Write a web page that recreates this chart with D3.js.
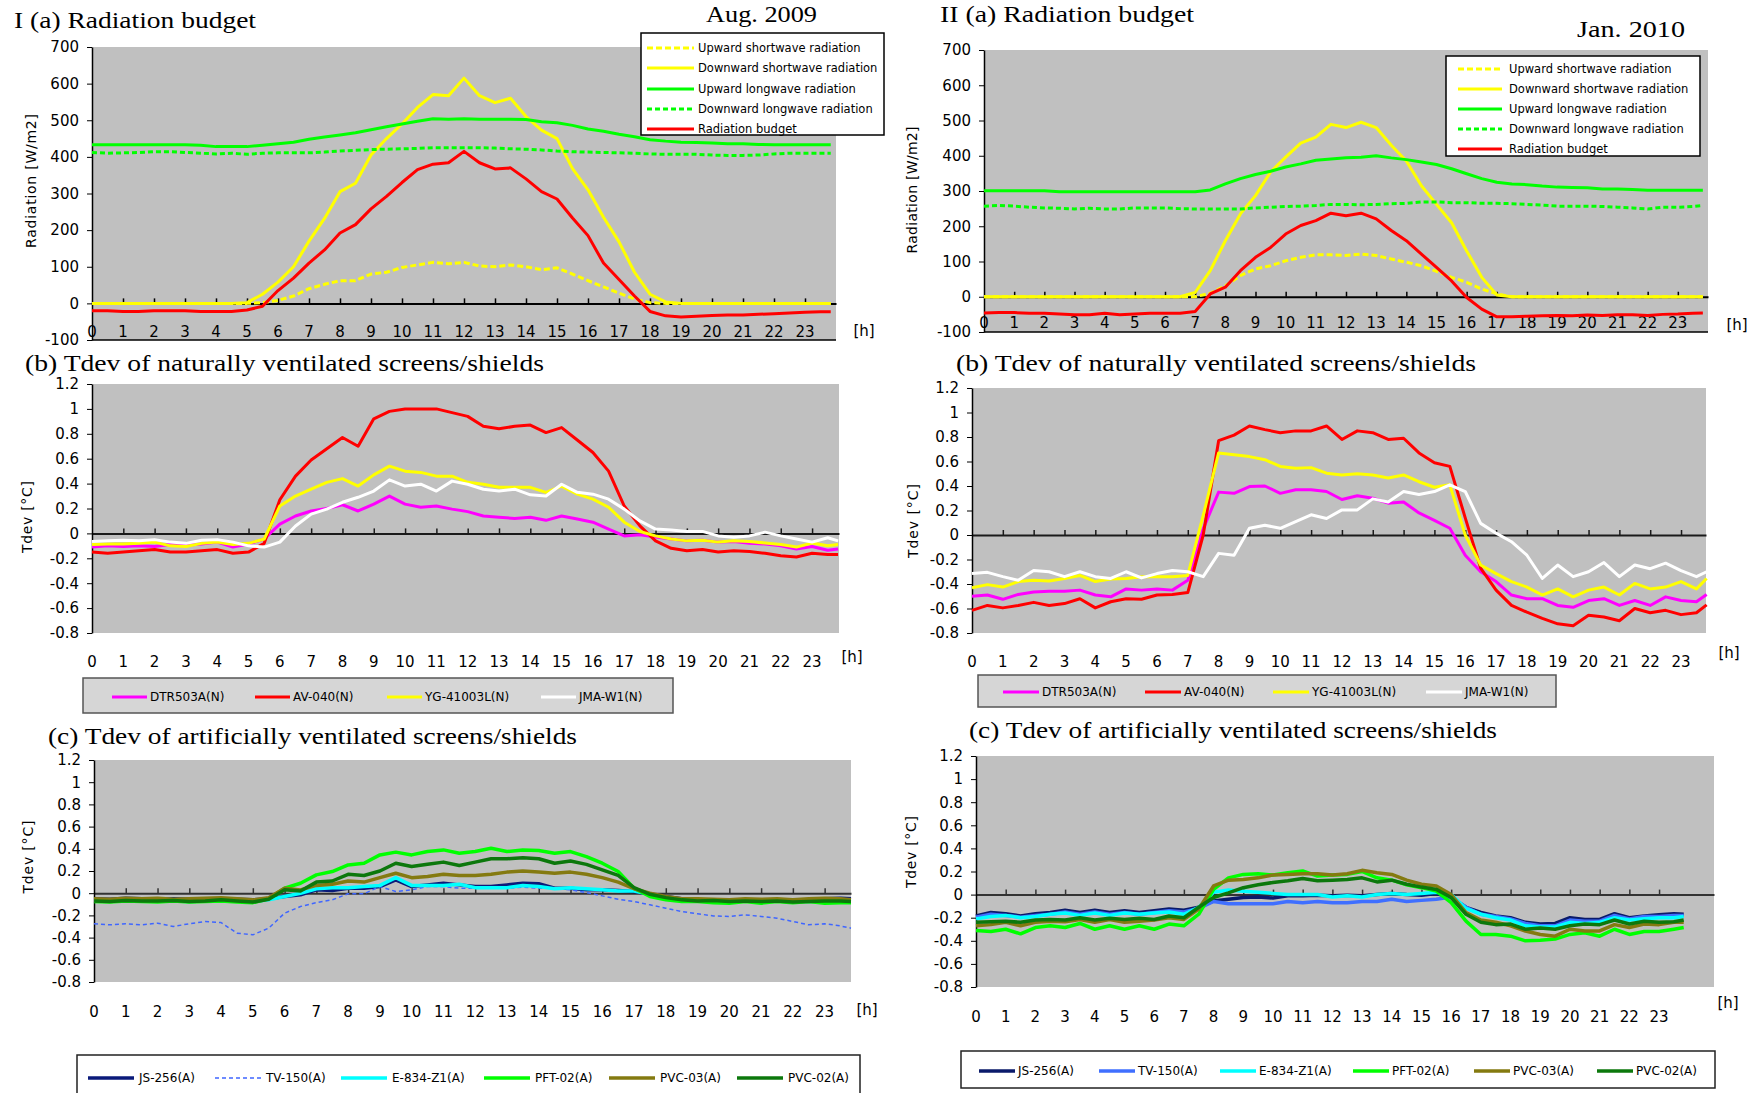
<!DOCTYPE html>
<html>
<head>
<meta charset="utf-8">
<script src="https://cdn.jsdelivr.net/npm/d3@7"></script>
<style>
  body { margin: 0; background: #fff; }
  svg { display: block; }
</style>
</head>
<body>
<svg id="chart" width="1755" height="1093"></svg>
<script>
// time grid (hours), every 30 min
var hours = [0,0.5,1,1.5,2,2.5,3,3.5,4,4.5,5,5.5,
  6,6.5,7,7.5,8,8.5,9,9.5,10,10.5,11,11.5,
  12,12.5,13,13.5,14,14.5,15,15.5,16,16.5,17,17.5,
  18,18.5,19,19.5,20,20.5,21,21.5,22,22.5,23,23.5,
  23.83];
var hourLabels = [0,1,2,3,4,5,6,7,8,9,10,11,12,13,14,15,16,17,18,19,20,21,22,23];
var radTicks = [-100,0,100,200,300,400,500,600,700];
var tdevTicks = [-0.8,-0.6,-0.4,-0.2,0,0.2,0.4,0.6,0.8,1,1.2];

var radNames = ["Upward shortwave radiation","Downward shortwave radiation","Upward longwave radiation","Downward longwave radiation","Radiation budget"];
var natNames = ["DTR503A(N)","AV-040(N)","YG-41003L(N)","JMA-W1(N)"];
var artNames = ["JS-256(A)","TV-150(A)","E-834-Z1(A)","PFT-02(A)","PVC-03(A)","PVC-02(A)"];

// ---- Aug. 2009 radiation [W/m2]
var augUpSW = [0,0,0,0,0,0,0,0,0,0,0,2,
  8,20,40,52,62,62,80,85,98,105,112,108,
  112,102,100,105,100,92,97,80,62,45,28,12,
  2,0,0,0,0,0,0,0,0,0,0,0,
  0];
var augDownSW = [0,0,0,0,0,0,0,0,0,0,2,25,
  58,100,170,232,305,328,405,450,490,535,570,567,
  615,567,548,560,510,473,450,368,310,235,168,85,
  25,4,0,0,0,0,0,0,0,0,0,0,
  0];
var augUpLW = [433,433,433,433,433,433,433,432,428,428,428,432,
  436,440,448,454,460,466,474,482,490,497,504,503,
  504,503,503,503,502,496,493,486,476,470,462,455,
  447,443,440,439,438,436,436,434,433,433,433,433,
  433];
var augDownLW = [412,410,411,412,414,414,412,410,408,410,407,410,
  411,411,411,413,416,418,420,421,422,423,425,425,
  425,425,424,422,421,419,416,414,413,412,411,410,
  408,407,407,407,405,404,404,405,408,410,410,410,
  410];
var augBudget = [-20,-20,-22,-22,-20,-20,-20,-22,-22,-22,-18,-8,
  35,69,110,146,192,215,258,292,330,365,380,384,
  415,384,367,370,340,305,285,233,185,110,65,20,
  -22,-34,-37,-35,-33,-32,-32,-30,-28,-26,-24,-23,
  -23];

// ---- Jan. 2010 radiation [W/m2]
var janUpSW = [0,0,0,0,0,0,0,0,0,0,0,0,
  0,0,0,10,31,60,79,88,102,112,119,119,
  117,121,117,107,98,88,72,55,41,22,8,0,
  0,0,0,0,0,0,0,0,0,0,0,0,
  0];
var janDownSW = [0,0,0,0,0,0,0,0,0,0,0,0,
  0,0,12,74,159,235,287,354,396,436,453,489,
  480,495,480,430,385,315,262,210,130,55,5,0,
  0,0,0,0,0,0,0,0,0,0,0,0,
  0];
var janUpLW = [301,301,301,301,301,298,298,298,298,298,298,298,
  298,298,298,303,320,335,347,356,368,377,387,391,
  394,396,400,394,389,382,375,363,349,335,325,320,
  318,314,311,310,309,306,306,304,302,302,302,302,
  302];
var janDownLW = [257,259,257,254,252,251,249,251,249,249,252,252,
  252,250,249,249,249,249,252,254,256,257,259,262,
  262,261,262,264,265,269,269,267,267,265,265,264,
  262,260,257,257,257,256,254,252,249,254,254,256,
  259];
var janBudget = [-46,-45,-45,-47,-47,-49,-51,-51,-47,-51,-49,-47,
  -47,-47,-42,8,27,74,112,140,178,202,216,237,
  230,237,221,188,159,121,83,45,-2,-35,-57,-57,
  -55,-54,-53,-54,-52,-53,-51,-51,-53,-50,-49,-47,
  -46];

// ---- Aug. 2009 Tdev, naturally ventilated [degC]
var augDTR = [-0.11,-0.10,-0.105,-0.10,-0.105,-0.09,-0.095,-0.085,-0.07,-0.11,-0.085,-0.045,
  0.075,0.14,0.18,0.20,0.23,0.18,0.235,0.30,0.235,0.21,0.22,0.195,
  0.175,0.14,0.13,0.12,0.13,0.105,0.14,0.115,0.09,0.035,-0.02,-0.01,
  -0.03,-0.045,-0.06,-0.055,-0.07,-0.065,-0.08,-0.085,-0.10,-0.125,-0.105,-0.135,
  -0.125];
var augAV = [-0.15,-0.16,-0.15,-0.14,-0.13,-0.15,-0.15,-0.14,-0.13,-0.16,-0.15,-0.08,
  0.27,0.46,0.59,0.68,0.77,0.70,0.92,0.98,1.0,1.0,1.0,0.97,
  0.94,0.86,0.84,0.86,0.87,0.81,0.85,0.75,0.65,0.50,0.22,0.06,
  -0.06,-0.12,-0.14,-0.13,-0.15,-0.14,-0.145,-0.16,-0.18,-0.19,-0.16,-0.17,
  -0.17];
var augYG = [-0.09,-0.085,-0.085,-0.08,-0.07,-0.10,-0.105,-0.08,-0.07,-0.09,-0.08,-0.045,
  0.22,0.30,0.355,0.41,0.44,0.38,0.47,0.54,0.50,0.49,0.46,0.46,
  0.41,0.395,0.37,0.37,0.37,0.33,0.38,0.315,0.275,0.21,0.09,0.015,
  -0.02,-0.045,-0.06,-0.055,-0.07,-0.06,-0.065,-0.077,-0.09,-0.11,-0.077,-0.10,
  -0.09];
var augJMA = [-0.065,-0.06,-0.055,-0.06,-0.05,-0.07,-0.08,-0.055,-0.05,-0.07,-0.10,-0.11,
  -0.07,0.06,0.155,0.195,0.25,0.29,0.34,0.43,0.38,0.395,0.34,0.42,
  0.395,0.355,0.34,0.355,0.31,0.30,0.395,0.33,0.315,0.275,0.195,0.10,
  0.035,0.027,0.016,0.016,-0.02,-0.03,-0.02,0.01,-0.02,-0.045,-0.07,-0.035,
  -0.06];

// ---- Jan. 2010 Tdev, naturally ventilated [degC]
var janDTR = [-0.50,-0.49,-0.525,-0.485,-0.465,-0.46,-0.46,-0.45,-0.49,-0.505,-0.44,-0.45,
  -0.44,-0.45,-0.37,0.05,0.35,0.34,0.395,0.40,0.34,0.37,0.37,0.355,
  0.29,0.32,0.30,0.26,0.27,0.18,0.12,0.055,-0.165,-0.30,-0.38,-0.49,
  -0.52,-0.52,-0.575,-0.59,-0.535,-0.52,-0.575,-0.535,-0.575,-0.505,-0.535,-0.545,
  -0.485];
var janAV = [-0.615,-0.575,-0.595,-0.575,-0.55,-0.575,-0.56,-0.52,-0.595,-0.545,-0.52,-0.525,
  -0.49,-0.485,-0.47,0.0,0.77,0.815,0.89,0.86,0.835,0.85,0.85,0.89,
  0.78,0.85,0.835,0.78,0.79,0.67,0.59,0.56,0.14,-0.27,-0.45,-0.575,
  -0.63,-0.68,-0.725,-0.74,-0.655,-0.67,-0.70,-0.60,-0.635,-0.615,-0.65,-0.635,
  -0.57];
var janYG = [-0.43,-0.405,-0.425,-0.38,-0.37,-0.375,-0.355,-0.33,-0.38,-0.36,-0.355,-0.34,
  -0.34,-0.34,-0.33,0.16,0.67,0.655,0.64,0.615,0.56,0.545,0.55,0.505,
  0.49,0.50,0.49,0.465,0.49,0.435,0.39,0.41,0.0,-0.245,-0.315,-0.38,
  -0.425,-0.49,-0.44,-0.505,-0.45,-0.425,-0.49,-0.395,-0.44,-0.425,-0.38,-0.44,
  -0.355];
var janJMA = [-0.315,-0.305,-0.34,-0.37,-0.29,-0.30,-0.34,-0.30,-0.34,-0.355,-0.30,-0.35,
  -0.315,-0.29,-0.30,-0.34,-0.15,-0.165,0.055,0.08,0.055,0.11,0.165,0.135,
  0.205,0.205,0.295,0.27,0.355,0.33,0.355,0.41,0.355,0.095,0.015,-0.055,
  -0.165,-0.355,-0.245,-0.34,-0.30,-0.225,-0.34,-0.245,-0.275,-0.23,-0.29,-0.34,
  -0.30];

// ---- Aug. 2009 Tdev, artificially ventilated [degC]
var augJS = [-0.05,-0.055,-0.045,-0.05,-0.06,-0.05,-0.055,-0.05,-0.05,-0.055,-0.06,-0.05,
  -0.03,-0.015,0.03,0.024,0.045,0.045,0.06,0.12,0.06,0.075,0.09,0.075,
  0.06,0.06,0.075,0.09,0.085,0.045,0.045,0.03,0.03,0.024,0.015,-0.006,
  -0.03,-0.05,-0.06,-0.065,-0.07,-0.06,-0.065,-0.06,-0.065,-0.06,-0.05,-0.045,
  -0.05];
var augTV = [-0.275,-0.285,-0.275,-0.285,-0.27,-0.30,-0.275,-0.255,-0.265,-0.36,-0.375,-0.315,
  -0.18,-0.12,-0.085,-0.06,-0.005,-0.005,0.06,0.015,0.03,0.06,0.06,0.045,
  0.045,0.045,0.045,0.055,0.045,0.045,0.03,0.006,-0.024,-0.054,-0.075,-0.105,
  -0.135,-0.165,-0.185,-0.205,-0.21,-0.195,-0.21,-0.225,-0.255,-0.285,-0.275,-0.295,
  -0.315];
var augE834 = [-0.07,-0.07,-0.065,-0.07,-0.065,-0.07,-0.075,-0.07,-0.065,-0.07,-0.075,-0.06,
  -0.03,0.0,0.04,0.05,0.05,0.06,0.07,0.14,0.07,0.07,0.07,0.08,
  0.05,0.05,0.05,0.07,0.06,0.04,0.05,0.04,0.03,0.02,0.02,-0.01,
  -0.04,-0.06,-0.07,-0.065,-0.07,-0.07,-0.075,-0.07,-0.07,-0.075,-0.07,-0.065,
  -0.07];
var augPFT = [-0.075,-0.08,-0.07,-0.075,-0.08,-0.07,-0.08,-0.075,-0.07,-0.08,-0.085,-0.05,
  0.045,0.09,0.165,0.195,0.255,0.27,0.345,0.37,0.345,0.375,0.39,0.36,
  0.375,0.405,0.375,0.39,0.385,0.36,0.375,0.33,0.27,0.195,0.045,-0.03,
  -0.06,-0.075,-0.075,-0.085,-0.09,-0.075,-0.09,-0.075,-0.085,-0.075,-0.09,-0.085,
  -0.085];
var augPVC03 = [-0.05,-0.055,-0.045,-0.05,-0.045,-0.055,-0.05,-0.045,-0.04,-0.05,-0.06,-0.04,
  0.045,0.03,0.07,0.08,0.11,0.10,0.14,0.18,0.14,0.15,0.17,0.16,
  0.16,0.17,0.19,0.20,0.19,0.18,0.19,0.17,0.14,0.10,0.04,0.0,
  -0.03,-0.05,-0.05,-0.055,-0.06,-0.05,-0.055,-0.05,-0.06,-0.05,-0.045,-0.05,
  -0.06];
var augPVC02 = [-0.07,-0.075,-0.065,-0.07,-0.07,-0.065,-0.075,-0.07,-0.06,-0.07,-0.08,-0.055,
  0.03,0.02,0.10,0.11,0.17,0.16,0.20,0.27,0.24,0.26,0.28,0.25,
  0.28,0.31,0.31,0.32,0.31,0.27,0.29,0.26,0.21,0.16,0.05,-0.01,
  -0.04,-0.06,-0.07,-0.065,-0.075,-0.07,-0.075,-0.07,-0.08,-0.075,-0.07,-0.07,
  -0.075];

// ---- Jan. 2010 Tdev, artificially ventilated [degC]
var janJS = [-0.185,-0.155,-0.165,-0.185,-0.165,-0.155,-0.135,-0.155,-0.135,-0.155,-0.14,-0.155,
  -0.14,-0.125,-0.135,-0.11,-0.055,-0.04,-0.025,-0.02,-0.03,-0.01,-0.01,-0.005,
  -0.01,-0.005,-0.01,0.0,0.01,0.0,-0.005,0.01,-0.025,-0.11,-0.155,-0.185,
  -0.20,-0.24,-0.255,-0.25,-0.20,-0.215,-0.215,-0.165,-0.20,-0.185,-0.175,-0.165,
  -0.17];
var janTV = [-0.195,-0.17,-0.18,-0.195,-0.18,-0.17,-0.15,-0.17,-0.15,-0.17,-0.155,-0.17,
  -0.155,-0.14,-0.15,-0.12,-0.06,-0.08,-0.08,-0.08,-0.08,-0.06,-0.07,-0.06,
  -0.07,-0.07,-0.06,-0.06,-0.04,-0.06,-0.05,-0.04,-0.02,-0.11,-0.17,-0.19,
  -0.21,-0.25,-0.27,-0.27,-0.22,-0.23,-0.23,-0.18,-0.21,-0.19,-0.19,-0.18,
  -0.18];
var janE834 = [-0.21,-0.19,-0.18,-0.20,-0.19,-0.17,-0.16,-0.18,-0.16,-0.18,-0.16,-0.17,
  -0.16,-0.15,-0.17,-0.11,0.02,0.04,0.03,0.02,0.01,0.0,0.0,0.0,
  -0.02,-0.01,-0.02,0.0,0.01,0.0,0.01,0.02,0.0,-0.12,-0.17,-0.20,
  -0.22,-0.27,-0.28,-0.28,-0.24,-0.25,-0.24,-0.20,-0.22,-0.21,-0.20,-0.20,
  -0.19];
var janPFT = [-0.31,-0.32,-0.30,-0.34,-0.285,-0.27,-0.285,-0.25,-0.30,-0.27,-0.30,-0.27,
  -0.30,-0.255,-0.27,-0.17,0.045,0.145,0.175,0.18,0.17,0.19,0.205,0.16,
  0.17,0.175,0.20,0.145,0.125,0.085,0.06,0.03,-0.07,-0.23,-0.345,-0.345,
  -0.36,-0.40,-0.395,-0.385,-0.345,-0.33,-0.36,-0.30,-0.345,-0.32,-0.32,-0.30,
  -0.285];
var janPVC03 = [-0.27,-0.26,-0.24,-0.27,-0.24,-0.23,-0.235,-0.215,-0.24,-0.215,-0.24,-0.23,
  -0.22,-0.20,-0.215,-0.125,0.075,0.125,0.13,0.145,0.17,0.175,0.18,0.18,
  0.17,0.18,0.21,0.19,0.175,0.125,0.09,0.075,0.0,-0.155,-0.22,-0.24,
  -0.27,-0.315,-0.345,-0.36,-0.30,-0.315,-0.315,-0.26,-0.285,-0.255,-0.26,-0.24,
  -0.24];
var janPVC02 = [-0.24,-0.235,-0.23,-0.24,-0.22,-0.215,-0.22,-0.20,-0.22,-0.205,-0.215,-0.205,
  -0.215,-0.185,-0.20,-0.11,-0.025,0.015,0.06,0.085,0.105,0.12,0.14,0.12,
  0.125,0.13,0.145,0.11,0.125,0.09,0.065,0.045,-0.025,-0.17,-0.24,-0.26,
  -0.255,-0.30,-0.29,-0.30,-0.27,-0.255,-0.26,-0.22,-0.255,-0.23,-0.24,-0.235,
  -0.22];

var svg = d3.select("#chart");
var sans = "'DejaVu Sans', sans-serif";
var serif = "'Liberation Serif', 'DejaVu Serif', serif";
var fmt = function(d) { return String(+d.toFixed(1)); };

// styles for the series
var radStyle = [
  {color: "#ffff00", w: 3, dash: "6,3"},
  {color: "#ffff00", w: 3, dash: null},
  {color: "#00ff00", w: 3, dash: null},
  {color: "#00ff00", w: 3, dash: "5,3"},
  {color: "#ff0000", w: 3, dash: null}
];
var natStyle = [
  {color: "#ff00ff", w: 3}, {color: "#ff0000", w: 3},
  {color: "#ffff00", w: 3}, {color: "#ffffff", w: 3}
];
var artStyleAug = [
  {color: "#0a1a7a", w: 3.5}, {color: "#3f66ff", w: 1.5, dash: "4,3"},
  {color: "#00ffff", w: 3.5}, {color: "#00ff00", w: 3.5},
  {color: "#847a10", w: 3.5}, {color: "#0c780c", w: 3.5}
];
var artStyleJan = [
  {color: "#0a1a6a", w: 3.5}, {color: "#3f6fff", w: 3.5},
  {color: "#00ffff", w: 3.5}, {color: "#00ff00", w: 3.5},
  {color: "#847a10", w: 3.5}, {color: "#0c780c", w: 3.5}
];

function drawPanel(p, data, styles, names, leg) {
  var g = svg.append("g");
  var x = d3.scaleLinear().domain([0, p.xMax]).range([p.x0, p.x1]);
  var y = d3.scaleLinear().domain([p.yTicks[0], p.yTicks[p.yTicks.length - 1]]).range([p.y1, p.y0]);

  g.append("rect")
    .attr("x", p.x0).attr("y", p.y0)
    .attr("width", p.x1 - p.x0).attr("height", p.y1 - p.y0)
    .attr("fill", "#c0c0c0");

  if (p.frameBottom) {
    g.append("line")
      .attr("x1", p.x0).attr("x2", p.x1)
      .attr("y1", p.y1).attr("y2", p.y1)
      .attr("stroke", "#000").attr("stroke-width", 1.5);
  }

  // zero line with hour ticks
  var zero = g.append("g")
    .attr("transform", "translate(0," + y(0) + ")")
    .call(d3.axisTop(x).tickValues(hourLabels.slice(1)).tickSize(5).tickSizeOuter(0).tickFormat(""));
  zero.select(".domain").attr("stroke", p.zeroColor).attr("stroke-width", 2);
  zero.selectAll(".tick line").attr("stroke", p.zeroColor).attr("stroke-width", 1.5);

  // y axis
  var ya = g.append("g")
    .attr("transform", "translate(" + p.x0 + ",0)")
    .call(d3.axisLeft(y).tickValues(p.yTicks).tickSize(5).tickSizeOuter(0).tickPadding(8).tickFormat(fmt));
  ya.attr("font-family", sans).attr("font-size", 15);
  ya.select(".domain").attr("stroke", "#000").attr("stroke-width", 1.5);
  ya.selectAll(".tick line").attr("stroke", "#000");
  ya.selectAll(".tick text").attr("fill", "#000");

  // hour labels
  g.selectAll(".hl").data(hourLabels).enter().append("text")
    .attr("x", function(d) { return x(d); })
    .attr("y", p.xLabelY).attr("dy", "0.35em")
    .attr("text-anchor", "middle")
    .attr("font-family", sans).attr("font-size", 15)
    .text(function(d) { return d; });
  g.append("text").attr("x", p.hx).attr("y", p.hy).attr("dy", "0.35em")
    .attr("text-anchor", "middle").attr("font-family", sans).attr("font-size", 15)
    .text("[h]");

  // series
  var line = d3.line()
    .x(function(d, i) { return x(hours[i]); })
    .y(function(d) { return y(d); });
  data.forEach(function(vals, k) {
    var s = styles[k];
    g.append("path")
      .datum(vals)
      .attr("d", line)
      .attr("fill", "none")
      .attr("stroke", s.color)
      .attr("stroke-width", s.w)
      .attr("stroke-linejoin", "round")
      .attr("stroke-dasharray", s.dash || null);
  });

  // y title
  g.append("text")
    .attr("transform", "translate(" + p.ytx + "," + p.yty + ") rotate(-90)")
    .attr("dy", "0.35em").attr("text-anchor", "middle")
    .attr("font-family", sans).attr("font-size", 14)
    .attr("textLength", p.ytLen).attr("lengthAdjust", "spacing")
    .text(p.yTitle);

  // panel title
  g.append("text")
    .attr("x", p.tx).attr("y", p.ty)
    .attr("font-family", serif).attr("font-size", 24)
    .attr("textLength", p.tLen).attr("lengthAdjust", "spacingAndGlyphs")
    .text(p.title);
  if (p.month) {
    g.append("text")
      .attr("x", p.mx).attr("y", p.my)
      .attr("font-family", serif).attr("font-size", 24)
      .attr("textLength", p.mLen).attr("lengthAdjust", "spacingAndGlyphs")
      .text(p.month);
  }

  // legend
  var lg = g.append("g");
  lg.append("rect")
    .attr("x", leg.box[0]).attr("y", leg.box[1])
    .attr("width", leg.box[2] - leg.box[0]).attr("height", leg.box[3] - leg.box[1])
    .attr("fill", leg.fill).attr("stroke", leg.stroke).attr("stroke-width", 1.5);
  names.forEach(function(n, k) {
    var s = styles[k];
    var sx = leg.vertical ? leg.sx : leg.sx[k];
    var sy = leg.vertical ? leg.rows[k] : leg.row;
    lg.append("line")
      .attr("x1", sx).attr("x2", sx + leg.sw)
      .attr("y1", sy).attr("y2", sy)
      .attr("stroke", s.color).attr("stroke-width", s.w)
      .attr("stroke-dasharray", s.dash || null);
    lg.append("text")
      .attr("x", sx + leg.tOff).attr("y", sy).attr("dy", "0.35em")
      .attr("font-family", sans).attr("font-size", leg.fs)
      .attr("fill", "#000")
      .text(n);
  });
}

// I (a)
drawPanel({x0: 92, x1: 836, y0: 47, y1: 340, xMax: 24, yTicks: radTicks, frameBottom: true, zeroColor: "#000",
  xLabelY: 332, hx: 864, hy: 331, yTitle: "Radiation  [W/m2]", ytx: 31, yty: 181, ytLen: 134,
  title: "I (a) Radiation budget", tx: 14, ty: 28, tLen: 242,
  month: "Aug. 2009", mx: 706, my: 22, mLen: 111},
  [augUpSW, augDownSW, augUpLW, augDownLW, augBudget], radStyle, radNames,
  {vertical: true, box: [641, 33, 884, 135], fill: "#fff", stroke: "#000",
   rows: [48, 68, 89, 109, 129], sx: 647, sw: 47, tOff: 51, fs: 11.5});

// II (a)
drawPanel({x0: 984, x1: 1708, y0: 50, y1: 332, xMax: 24, yTicks: radTicks, frameBottom: true, zeroColor: "#000",
  xLabelY: 323, hx: 1737, hy: 325, yTitle: "Radiation  [W/m2]", ytx: 912, yty: 190, ytLen: 127,
  title: "II (a) Radiation budget", tx: 940, ty: 22, tLen: 254,
  month: "Jan. 2010", mx: 1577, my: 37, mLen: 108},
  [janUpSW, janDownSW, janUpLW, janDownLW, janBudget], radStyle, radNames,
  {vertical: true, box: [1446, 56, 1700, 156], fill: "#fff", stroke: "#000",
   rows: [69, 89, 109, 129, 149], sx: 1458, sw: 44, tOff: 51, fs: 11.5});

// I (b)
drawPanel({x0: 92, x1: 839, y0: 384, y1: 633, xMax: 23.86, yTicks: tdevTicks, zeroColor: "#1a1a1a",
  xLabelY: 662, hx: 852, hy: 657, yTitle: "Tdev  [\u00b0C]", ytx: 27, yty: 517, ytLen: 72,
  title: "(b) Tdev of naturally ventilated screens/shields", tx: 25, ty: 371, tLen: 519},
  [augDTR, augAV, augYG, augJMA], natStyle, natNames,
  {vertical: false, box: [83, 678, 673, 713], fill: "#d6d6d6", stroke: "#555",
   row: 697, sx: [112, 255, 387, 541], sw: 35, tOff: 38, fs: 12});

// II (b)
drawPanel({x0: 972, x1: 1706, y0: 388, y1: 633, xMax: 23.81, yTicks: tdevTicks, zeroColor: "#1a1a1a",
  xLabelY: 662, hx: 1729, hy: 653, yTitle: "Tdev  [\u00b0C]", ytx: 913, yty: 521, ytLen: 74,
  title: "(b) Tdev of naturally ventilated screens/shields", tx: 956, ty: 371, tLen: 520},
  [janDTR, janAV, janYG, janJMA], natStyle, natNames,
  {vertical: false, box: [978, 675, 1556, 707], fill: "#d6d6d6", stroke: "#555",
   row: 692, sx: [1003, 1145, 1273, 1426], sw: 36, tOff: 39, fs: 12});

// I (c)
drawPanel({x0: 94, x1: 851, y0: 760, y1: 982, xMax: 23.83, yTicks: tdevTicks, zeroColor: "#333",
  xLabelY: 1012, hx: 867, hy: 1010, yTitle: "Tdev  [\u00b0C]", ytx: 28, yty: 857, ytLen: 73,
  title: "(c) Tdev of artificially ventilated screens/shields", tx: 48, ty: 744, tLen: 529},
  [augJS, augTV, augE834, augPFT, augPVC03, augPVC02], artStyleAug, artNames,
  {vertical: false, box: [77, 1055, 860, 1100], fill: "#fff", stroke: "#222",
   row: 1078, sx: [88, 215, 341, 484, 609, 737], sw: 46, tOff: 51, fs: 12});

// II (c)
drawPanel({x0: 976, x1: 1714, y0: 756, y1: 987, xMax: 24.85, yTicks: tdevTicks, zeroColor: "#333",
  xLabelY: 1017, hx: 1728, hy: 1003, yTitle: "Tdev  [\u00b0C]", ytx: 911, yty: 852, ytLen: 72,
  title: "(c) Tdev of artificially ventilated screens/shields", tx: 969, ty: 738, tLen: 528},
  [janJS, janTV, janE834, janPFT, janPVC03, janPVC02], artStyleJan, artNames,
  {vertical: false, box: [961, 1051, 1715, 1088], fill: "#fff", stroke: "#222",
   row: 1071, sx: [979, 1099, 1220, 1353, 1474, 1597], sw: 36, tOff: 39, fs: 12});
</script>
</body>
</html>
